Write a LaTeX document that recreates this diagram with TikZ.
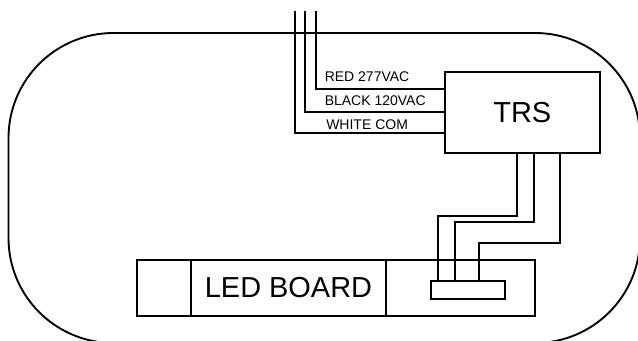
\documentclass[tikz,border=0pt]{standalone}
\usepackage{fontspec}
\setmainfont{Liberation Sans}
\begin{document}
\begin{tikzpicture}[x=0.75pt,y=-0.75pt,line join=miter,
  box/.style={draw=black,line width=1.5pt,rectangle,inner sep=0pt,outer sep=0pt,anchor=north west},
  thin box/.style={box,line width=1.5pt},
  wire/.style={draw=black,line width=1.5pt},
  small label/.style={font=\fontsize{10.5}{13}\selectfont,inner sep=0pt,anchor=west},
  big label/.style={font=\fontsize{21.7}{25}\selectfont,inner sep=0pt}]
\useasboundingbox (0,0) rectangle (638,341);
\clip (0,0) rectangle (638,341);
\draw[line width=1.4pt,rounded corners=78.75pt] (8.5,33) rectangle (640,343);
% TRS
\node[box,minimum width=154.5*0.75pt,minimum height=81*0.75pt] (trs) at (445,72) {};
\node[big label] at (trs.center) {TRS};
% LED board cells
\node[thin box,minimum width=54.5*0.75pt,minimum height=56*0.75pt] (c1) at (136.5,260) {};
\node[thin box,minimum width=195*0.75pt,minimum height=56*0.75pt] (c2) at (191,260) {};
\node[thin box,minimum width=148.5*0.75pt,minimum height=56*0.75pt] (c3) at (386,260) {};
\node[big label] at (c2.center) {LED BOARD};
\node[thin box,minimum width=74*0.75pt,minimum height=18.5*0.75pt] (conn) at (431,281) {};
% free ends
\coordinate (r0) at (315.5,11.5);
\coordinate (b0) at (305,11.5);
\coordinate (w0) at (295,11.5);
% mains wires
\draw[wire] (r0) |- (trs.west |- 0,89.5);
\draw[wire] (b0) |- (trs.west |- 0,112.5);
\draw[wire] (w0) |- (trs.west |- 0,133.5);
% board wires
\draw[wire] (trs.south -| 516.5,0) |- (438,215.7) -- (conn.north -| 438,0);
\draw[wire] (trs.south -| 534,0) |- (455,222.5) -- (conn.north -| 455,0);
\draw[wire] (trs.south -| 560,0) |- (479,243) -- (conn.north -| 479,0);
% labels
\node[small label] at (324.5,77) {RED 277VAC};
\node[small label] at (324.5,100.5) {BLACK 120VAC};
\node[small label] at (326,125) {WHITE COM};
\end{tikzpicture}
\end{document}
